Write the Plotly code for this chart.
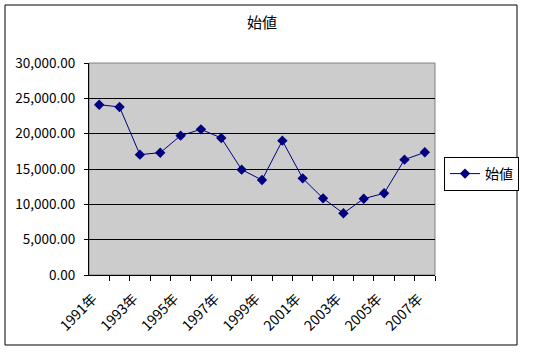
import plotly.graph_objects as go

years = [1991, 1992, 1993, 1994, 1995, 1996, 1997, 1998, 1999, 2000,
         2001, 2002, 2003, 2004, 2005, 2006, 2007]
values = [24100, 23780, 17030, 17310, 19720, 20610, 19390, 14910, 13440, 19010,
          13680, 10850, 8730, 10800, 11560, 16320, 17360]
label_years = [1991, 1993, 1995, 1997, 1999, 2001, 2003, 2005, 2007]
label_text = ["1991年", "1993年", "1995年", "1997年", "1999年", "2001年", "2003年", "2005年", "2007年"]
series_name = "始値"

W, H = 545, 352
L, R, T, B = 89, 435, 63, 275

def px(x):
    return (x - L) / (R - L)

def py(y):
    return (B - y) / (B - T)

font_family = "Noto Sans CJK JP, Noto Sans, sans-serif"

fig = go.Figure()
fig.add_trace(go.Scatter(
    x=years, y=values, name=series_name, mode="lines+markers",
    line=dict(color="#000080", width=1),
    marker=dict(symbol="diamond", size=8, color="#000080"),
))

fig.update_layout(
    width=W, height=H,
    margin=dict(l=L, r=W - R, t=T, b=H - B, pad=0),
    paper_bgcolor="white",
    plot_bgcolor="#CCCCCC",
    font=dict(family=font_family, color="black", size=13),
    title=dict(text=series_name, x=px(262), xref="paper", xanchor="center",
               y=1 - 23 / H, yref="container", yanchor="middle",
               font=dict(size=15, family=font_family, color="black")),
    showlegend=True,
    legend=dict(x=px(444), y=py(157), xanchor="left", yanchor="top",
                bordercolor="black", borderwidth=1, bgcolor="white",
                font=dict(size=14, family=font_family), itemwidth=30,
                tracegroupgap=0),
    xaxis=dict(
        range=[1990.5, 2007.5],
        tickmode="array", tickvals=[y - 0.3 for y in label_years], ticktext=label_text,
        tickangle=-45, ticks="", showgrid=False, zeroline=False,
        showline=True, linecolor="black", linewidth=1,
        tickfont=dict(size=14, family=font_family),
        ticklabelstandoff=9,
        minor=dict(tickmode="array", tickvals=[y + 0.5 for y in years],
                   ticks="outside", ticklen=5, tickcolor="black", tickwidth=1,
                   showgrid=False),
    ),
    yaxis=dict(
        range=[0, 30000], dtick=5000, tickformat=",.2f",
        showgrid=True, gridcolor="black", gridwidth=1, zeroline=False,
        showline=True, linecolor="black", linewidth=1,
        ticks="outside", ticklen=4, tickcolor="black",
        tickfont=dict(size=13.5, family=font_family),
        ticklabelstandoff=6,
    ),
    shapes=[
        dict(type="rect", xref="paper", yref="paper", x0=0, x1=1, y0=0, y1=1,
             line=dict(color="#808080", width=1), layer="below"),
        dict(type="rect", xref="paper", yref="paper",
             x0=px(5), x1=px(517), y0=py(345), y1=py(5),
             line=dict(color="black", width=1), layer="below"),
    ],
)

fig.write_html("out.html")
